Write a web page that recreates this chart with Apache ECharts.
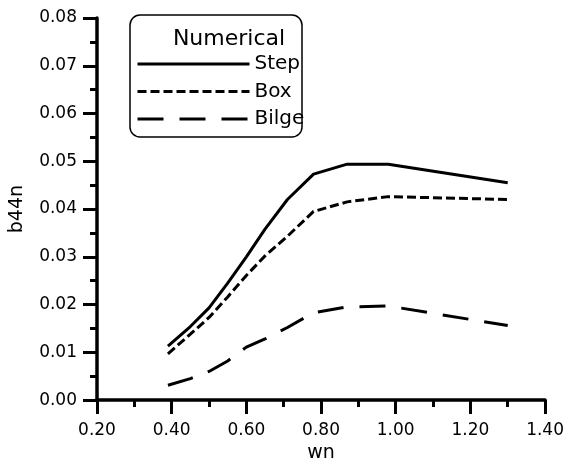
<!DOCTYPE html>
<html>
<head>
<meta charset="utf-8">
<script src="https://cdn.jsdelivr.net/npm/echarts@6/dist/echarts.min.js"></script>
<style>
  html, body { margin: 0; padding: 0; background: #fff; }
  #main { width: 567px; height: 468px; }
</style>
</head>
<body>
<div id="main"></div>
<script>
// wn values where the curves are sampled
var wn = [0.39, 0.45, 0.50, 0.55, 0.60, 0.65, 0.71, 0.78, 0.87, 0.98, 1.30];
var stepVals  = [0.0113, 0.0154, 0.0193, 0.0245, 0.0300, 0.0358, 0.0420, 0.0473, 0.0494, 0.0494, 0.0455];
var boxVals   = [0.0097, 0.0138, 0.0173, 0.0216, 0.0261, 0.0302, 0.0343, 0.0395, 0.0415, 0.0426, 0.0420];
var bilgeVals = [0.0031, 0.0045, 0.0060, 0.0082, 0.0111, 0.0128, 0.0152, 0.0183, 0.0195, 0.0197, 0.0156];
var seriesNames = ['Step', 'Box', 'Bilge'];

function pairs(xs, ys) {
  return xs.map(function (x, i) { return [x, ys[i]]; });
}

var font = '"DejaVu Sans", Arial, sans-serif';
var myChart = echarts.init(document.getElementById('main'));
var option = {
  animation: false,
  backgroundColor: '#fff',
  textStyle: { fontFamily: font, color: '#000' },
  grid: { left: 97, right: 20, top: 18, bottom: 61, containLabel: false },
  title: {
    text: 'Numerical',
    left: 224, top: 23, textAlign: 'center',
    textStyle: { fontFamily: font, fontSize: 22, fontWeight: 'normal', color: '#000' }
  },
  graphic: [{
    type: 'rect',
    shape: { x: 130, y: 15, width: 172, height: 122, r: 10 },
    style: { fill: 'none', stroke: '#000', lineWidth: 1.5 },
    z: 10
  }],
  legend: {
    orient: 'vertical',
    left: 131, top: 49,
    itemWidth: 112, itemHeight: 14, itemGap: 7.5,
    data: seriesNames,
    itemStyle: { opacity: 0 },
    lineStyle: { width: 3 },
    textStyle: { fontFamily: font, fontSize: 20, lineHeight: 20, color: '#000' }
  },
  xAxis: {
    type: 'value', min: 0.2, max: 1.4, interval: 0.2,
    name: 'wn', nameLocation: 'middle', nameGap: 42,
    nameTextStyle: { fontFamily: font, fontSize: 19, color: '#000' },
    axisLine: { lineStyle: { color: '#000', width: 3.5 } },
    axisTick: { length: 14, lineStyle: { width: 3, color: '#000' } },
    minorTick: { show: true, splitNumber: 2, length: 7, lineStyle: { width: 3, color: '#000' } },
    axisLabel: { margin: 22, fontSize: 17, color: '#000', formatter: function (v) { return v.toFixed(2); } },
    splitLine: { show: false }
  },
  yAxis: {
    type: 'value', min: 0, max: 0.08, interval: 0.01,
    name: 'b44n', nameLocation: 'middle', nameGap: 70,
    nameTextStyle: { fontFamily: font, fontSize: 19, color: '#000' },
    axisLine: { show: true, lineStyle: { color: '#000', width: 3.5 } },
    axisTick: { show: true, length: 14, lineStyle: { width: 3, color: '#000' } },
    minorTick: { show: true, splitNumber: 2, length: 7, lineStyle: { width: 3, color: '#000' } },
    axisLabel: { margin: 20, fontSize: 17, color: '#000', formatter: function (v) { return v.toFixed(2); } },
    splitLine: { show: false }
  },
  series: [
    {
      name: 'Step', type: 'line', data: pairs(wn, stepVals),
      showSymbol: false, symbol: 'none', color: '#000',
      lineStyle: { color: '#000', width: 3, type: 'solid' }
    },
    {
      name: 'Box', type: 'line', data: pairs(wn, boxVals),
      showSymbol: false, symbol: 'none', color: '#000',
      lineStyle: { color: '#000', width: 3, type: [9, 4] }
    },
    {
      name: 'Bilge', type: 'line', data: pairs(wn, bilgeVals),
      showSymbol: false, symbol: 'none', color: '#000',
      lineStyle: { color: '#000', width: 3, type: [26, 16] }
    }
  ]
};
myChart.setOption(option);
</script>
</body>
</html>
